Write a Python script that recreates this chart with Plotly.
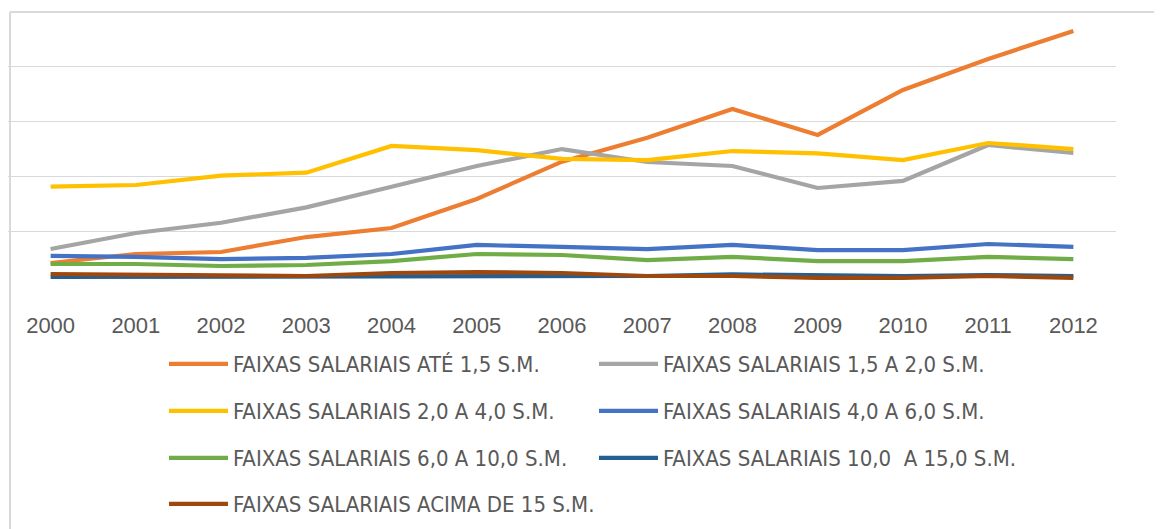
import plotly.graph_objects as go

anos = ["2000", "2001", "2002", "2003", "2004", "2005", "2006", "2007", "2008", "2009", "2010", "2011", "2012"]

ate_1_5 = [20.9, 29.1, 30.9, 44.5, 52.7, 79.1, 113.0, 134.8, 160.9, 137.3, 178.2, 206.4, 231.8]
de_1_5_a_2 = [33.6, 48.2, 57.5, 71.5, 90.3, 109.1, 124.5, 112.7, 109.1, 89.1, 95.5, 128.2, 120.9]
de_2_a_4 = [90.3, 91.8, 100.3, 103.0, 127.3, 123.6, 115.5, 114.5, 122.7, 120.5, 114.5, 130.0, 124.5]
de_4_a_6 = [27.3, 26.4, 24.5, 25.5, 29.1, 37.3, 35.5, 33.6, 37.3, 32.7, 32.7, 38.2, 35.5]
de_6_a_10 = [20.0, 20.0, 18.2, 19.1, 22.7, 29.1, 28.2, 23.6, 26.4, 22.7, 22.7, 26.4, 24.5]
de_10_a_15 = [8.2, 8.2, 8.2, 8.2, 9.1, 9.1, 9.1, 9.1, 10.5, 9.5, 9.1, 10.0, 9.1]
acima_15 = [10.9, 10.3, 9.1, 9.1, 11.8, 12.7, 11.8, 9.1, 9.1, 7.3, 7.3, 9.1, 7.3]

series = [
    ("FAIXAS SALARIAIS ATÉ 1,5 S.M.", ate_1_5, "#ED7D31", "legend"),
    ("FAIXAS SALARIAIS 1,5 A 2,0 S.M.", de_1_5_a_2, "#A5A5A5", "legend"),
    ("FAIXAS SALARIAIS 2,0 A 4,0 S.M.", de_2_a_4, "#FFC000", "legend2"),
    ("FAIXAS SALARIAIS 4,0 A 6,0 S.M.", de_4_a_6, "#4472C4", "legend2"),
    ("FAIXAS SALARIAIS 6,0 A 10,0 S.M.", de_6_a_10, "#70AD47", "legend3"),
    ("FAIXAS SALARIAIS 10,0  A 15,0 S.M.", de_10_a_15, "#255E91", "legend3"),
    ("FAIXAS SALARIAIS ACIMA DE 15 S.M.", acima_15, "#9E480E", "legend4"),
]

fig = go.Figure()
for name, vals, color, leg in series:
    fig.add_trace(go.Scatter(
        x=anos, y=vals, name=name.replace("  ", "&nbsp; "), mode="lines",
        line=dict(color=color, width=4.2), legend=leg,
    ))

# page body has an 8px default margin, so figure coords = reference coords - 8
OFF = 8
W, H = 1154, 521
plot_left, plot_right = 7.5 - OFF, 1115.6 - OFF
plot_top, plot_bottom = 11 - OFF, 286 - OFF
ml = 0
mr = W - plot_right
mt = plot_top
mb = H - plot_bottom

legfont = dict(family="Liberation Sans Narrow, Arial Narrow, DejaVu Sans Condensed, sans-serif",
               size=22, color="#595959")
rows_y = [364, 411, 458, 504]
leg_common = dict(orientation="h", xref="container", yref="container", xanchor="left",
                  yanchor="middle", x=(164 - OFF) / W, entrywidth=356, itemwidth=59,
                  font=legfont, bgcolor="rgba(0,0,0,0)", traceorder="normal")

layout_legs = {}
for i, key in enumerate(["legend", "legend2", "legend3", "legend4"]):
    layout_legs[key] = dict(leg_common, y=1 - (rows_y[i] - OFF) / H)

fig.update_layout(
    width=W, height=H,
    margin=dict(l=ml, r=mr, t=mt, b=mb, pad=0),
    paper_bgcolor="white", plot_bgcolor="white",
    showlegend=True,
    xaxis=dict(type="category", range=[-0.5, 12.5], showgrid=False, showline=False,
               zeroline=False, ticks="", ticklabelstandoff=24,
               tickfont=dict(family="Liberation Sans, Arial, sans-serif", size=22, color="#595959")),
    yaxis=dict(range=[0, 250], dtick=50, showgrid=True, gridcolor="#D9D9D9", gridwidth=1,
               showticklabels=False, zeroline=False, showline=False, ticks=""),
    **layout_legs,
)

pw = plot_right - ml
ph = plot_bottom - plot_top
frame_top = (plot_bottom - (12 - OFF)) / ph
frame_left = ((10 - OFF) - ml) / pw
# chart border (top and left edges)
fig.add_shape(type="line", xref="paper", yref="paper", x0=frame_left, x1=1.1,
              y0=frame_top, y1=frame_top, line=dict(color="#D9D9D9", width=2))
fig.add_shape(type="line", xref="paper", yref="paper", x0=frame_left, x1=frame_left,
              y0=frame_top, y1=-1.0, line=dict(color="#D9D9D9", width=2))

fig.write_html("out.html")
